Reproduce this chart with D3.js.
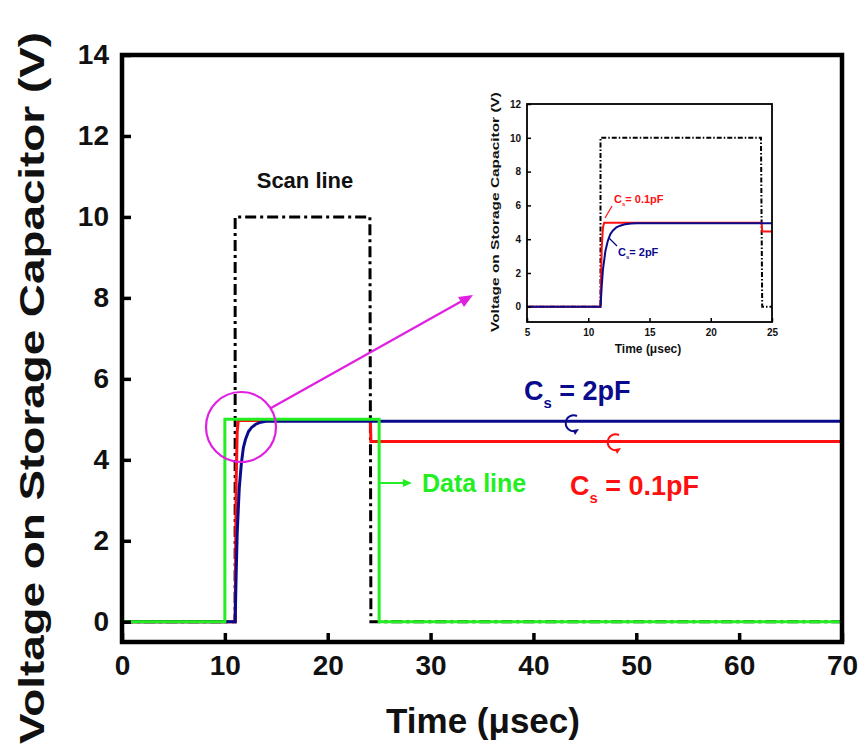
<!DOCTYPE html>
<html><head><meta charset="utf-8">
<script src="https://cdn.jsdelivr.net/npm/d3@7"></script>
<style>body{margin:0;background:#fff}text{font-family:"Liberation Sans",Arial,sans-serif;font-weight:bold}</style>
</head><body><svg id="c" width="865" height="747"></svg>
<script>
// ---- data ----
const xTicks = [0,10,20,30,40,50,60,70];
const yTicks = [0,2,4,6,8,10,12,14];
const scanT = [0, 11, 11, 24.1, 24.2, 70];
const scanV = [0, 0, 10, 10, 0, 0];
const dataT = [0, 10, 10, 25, 25, 70];
const dataV = [0, 0, 5, 5, 0, 0];
const cs2T = [0, 11.0, 11.1, 11.2, 11.4, 11.6, 11.8, 12.0, 12.3, 12.6, 13.0, 13.5, 14, 15, 24, 70];
const cs2V = [0, 0, 1.2, 2.2, 3.3, 3.9, 4.3, 4.5, 4.7, 4.8, 4.88, 4.93, 4.95, 4.95, 4.95, 4.95];
const cs01T = [0, 11.0, 11.1, 11.2, 11.3, 24.15, 24.2, 70];
const cs01V = [0, 0, 3.5, 4.7, 4.97, 4.97, 4.45, 4.45];
const insetXTicks = [5,10,15,20,25];
const insetYTicks = [0,2,4,6,8,10,12];

const svg = d3.select("#c");
const zip = (t,v) => t.map((d,i)=>[d,v[i]]);

function drawPanel(g, o) {
  const x = d3.scaleLinear().domain(o.xd).range([o.l, o.r]);
  const y = d3.scaleLinear().domain(o.yd).range([o.b, o.t]);
  const cp = "clip" + o.id;
  g.append("clipPath").attr("id", cp).append("rect").attr("x", o.l).attr("y", o.t).attr("width", o.r-o.l).attr("height", o.b-o.t);
  const line = d3.line().x(d=>x(d[0])).y(d=>y(d[1]));
  const lg = g.append("g").attr("clip-path", `url(#${cp})`);
  lg.append("path").attr("d", line(zip(scanT, scanV))).attr("fill","none").attr("stroke","#000").attr("stroke-width", o.sw)
    .attr("stroke-dasharray", o.dash);
  lg.append("path").attr("d", line(zip(cs01T, cs01V))).attr("fill","none").attr("stroke","#ff1010").attr("stroke-width", o.sw);
  lg.append("path").attr("d", line(zip(cs2T, cs2V))).attr("fill","none").attr("stroke","#0a0a8c").attr("stroke-width", o.sw);
  if (o.green) lg.append("path").attr("d", line(zip(dataT, dataV))).attr("fill","none").attr("stroke","#22ee22").attr("stroke-width", o.sw);
  // axes (ticks inward)
  const xa = g.append("g").attr("transform", `translate(0,${o.b})`)
    .call(d3.axisBottom(x).tickValues(o.xt).tickSizeInner(-o.tk).tickSizeOuter(0).tickPadding(o.tp));
  const ya = g.append("g").attr("transform", `translate(${o.l},0)`)
    .call(d3.axisLeft(y).tickValues(o.yt).tickSizeInner(-o.tk).tickSizeOuter(0).tickPadding(o.tpy));
  [xa, ya].forEach(a => {
    a.select(".domain").remove();
    a.selectAll("line").attr("stroke","#000").attr("stroke-width", o.tw);
    a.selectAll("text").attr("fill","#111").attr("font-size", o.fs).attr("font-family","Liberation Sans, Arial").attr("font-weight","bold");
  });
  g.append("rect").attr("x", o.l).attr("y", o.t).attr("width", o.r-o.l).attr("height", o.b-o.t)
    .attr("fill","none").attr("stroke","#000").attr("stroke-width", o.fw);
  return {x, y};
}

// ---- main chart ----
const M = drawPanel(svg.append("g"), {id:"m", xd:[0,70], yd:[-0.5,14], l:122, r:842, t:55, b:642,
  xt:xTicks, yt:yTicks, sw:3, dash:"11,4,3,4", tk:9, tw:3.5, fw:4.5, fs:28, tp:13, tpy:13, green:true});

// titles
svg.append("text").attr("x", 483).attr("y", 733).attr("text-anchor","middle").attr("font-size", 35)
  .attr("fill","#111").text("Time (\u03bcsec)");
svg.append("text").attr("transform","translate(44,388) rotate(-90)").attr("text-anchor","middle")
  .attr("font-size", 35).attr("fill","#111").attr("textLength", 712).attr("lengthAdjust","spacingAndGlyphs")
  .text("Voltage on Storage Capacitor (V)");

// annotations main
svg.append("text").attr("x", 305).attr("y", 188).attr("text-anchor","middle").attr("font-size", 22).attr("fill","#111").text("Scan line");
svg.append("text").attr("x", 422).attr("y", 492).attr("font-size", 25).attr("fill","#22ee22").text("Data line");
svg.append("line").attr("x1", M.x(25.1)).attr("x2", M.x(27.6)).attr("y1", 483).attr("y2", 483).attr("stroke","#22ee22").attr("stroke-width",2);
svg.append("path").attr("d", `M${M.x(27.6)+6},483 l-9,-4 l0,8 z`).attr("fill","#22ee22");

function csLabel(x, y, val, color, fs) {
  const t = svg.append("text").attr("x", x).attr("y", y).attr("font-size", fs).attr("fill", color);
  t.append("tspan").text("C");
  t.append("tspan").attr("font-size", fs*0.55).attr("dy", fs*0.3).text("s");
  t.append("tspan").attr("dy", -fs*0.3).text(" = " + val);
}
csLabel(524, 400, "2pF", "#0a0a8c", 27);
csLabel(570, 495, "0.1pF", "#ff1010", 27);

function curl(cx, cy, color) {
  svg.append("path").attr("d", `M${cx+5},${cy-8} A8,8 0 1,0 ${cx+4},${cy+7}`).attr("fill","none").attr("stroke",color).attr("stroke-width",2);
  svg.append("path").attr("d", `M${cx+7},${cy+5} l-6,1 l2,5 z`).attr("fill",color);
}
curl(572, 424, "#0a0a8c");
curl(614, 443, "#ff1010");

// magnifier
svg.append("circle").attr("cx", 241).attr("cy", 427).attr("r", 35).attr("fill","none").attr("stroke","#e020e0").attr("stroke-width", 2.2);
svg.append("line").attr("x1", 271).attr("y1", 408).attr("x2", 462).attr("y2", 301).attr("stroke","#e020e0").attr("stroke-width", 2.2);
svg.append("path").attr("d", "M473,295 L458,297 L464,307 z").attr("fill","#e020e0");

// ---- inset ----
const ig = svg.append("g");
ig.append("rect").attr("x",527).attr("y",104).attr("width",245).attr("height",218).attr("fill","#fff");
const I = drawPanel(ig, {id:"i", xd:[5,25], yd:[-0.9,12], l:527, r:772, t:104, b:322,
  xt:insetXTicks, yt:insetYTicks, sw:2, dash:"5,2,1.5,2", tk:4, tw:1.5, fs:10, tp:7, tpy:6, fw:1.8, green:false});
svg.append("text").attr("x", 648).attr("y", 353).attr("text-anchor","middle").attr("font-size", 12).attr("fill","#111").text("Time (\u03bcsec)");
svg.append("text").attr("transform","translate(499,212) rotate(-90)").attr("text-anchor","middle")
  .attr("font-size", 11).attr("fill","#111").attr("textLength", 240).attr("lengthAdjust","spacingAndGlyphs")
  .text("Voltage on Storage Capacitor (V)");
function csSmall(x, y, val, color) {
  const t = svg.append("text").attr("x", x).attr("y", y).attr("font-size", 11).attr("fill", color);
  t.append("tspan").text("C");
  t.append("tspan").attr("font-size", 6).attr("dy", 3).text("s");
  t.append("tspan").attr("dy", -3).text("= " + val);
}
csSmall(614, 203, "0.1pF", "#ff1010");
csSmall(618, 256, "2pF", "#0a0a8c");
svg.append("line").attr("x1",612).attr("y1",206).attr("x2",605).attr("y2",218).attr("stroke","#ff1010").attr("stroke-width",1.2);
svg.append("line").attr("x1",617).attr("y1",246).attr("x2",609).attr("y2",238).attr("stroke","#0a0a8c").attr("stroke-width",1.2);
</script></body></html>
